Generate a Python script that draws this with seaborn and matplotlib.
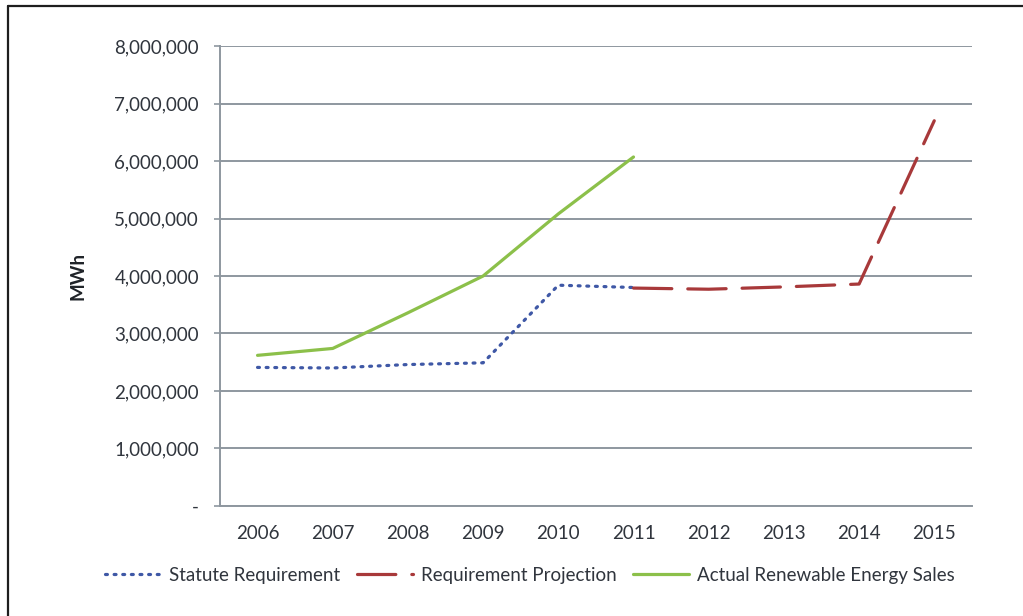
import matplotlib
matplotlib.use("Agg")
import matplotlib.pyplot as plt
from matplotlib.lines import Line2D
from matplotlib.ticker import FuncFormatter, FixedLocator
import numpy as np
import pandas as pd
import seaborn as sns

# Renewable energy requirement vs. actual sales (MWh)
statute_years = [2006, 2007, 2008, 2009, 2010, 2011]
statute_mwh = [2410000, 2400000, 2460000, 2490000, 3840000, 3800000]

projection_years = [2011, 2012, 2013, 2014, 2015]
projection_mwh = [3790000, 3770000, 3810000, 3860000, 6700000]

actual_years = [2006, 2007, 2008, 2009, 2010, 2011]
actual_mwh = [2620000, 2740000, 3360000, 4000000, 5080000, 6070000]

year_labels = [2006, 2007, 2008, 2009, 2010, 2011, 2012, 2013, 2014, 2015]
y_ticks = [0, 1000000, 2000000, 3000000, 4000000, 5000000, 6000000, 7000000, 8000000]

series_names = ["Statute Requirement", "Requirement Projection", "Actual Renewable Energy Sales"]

df = pd.concat([
    pd.DataFrame({"Year": statute_years, "MWh": statute_mwh, "Series": series_names[0]}),
    pd.DataFrame({"Year": projection_years, "MWh": projection_mwh, "Series": series_names[1]}),
    pd.DataFrame({"Year": actual_years, "MWh": actual_mwh, "Series": series_names[2]}),
], ignore_index=True)

sns.set_theme(style="white")
plt.rcParams["font.family"] = ["Lato", "DejaVu Sans"]

palette = {
    series_names[0]: "#3f58a6",
    series_names[1]: "#a8393a",
    series_names[2]: "#8cc04a",
}
dashes = {
    series_names[0]: (0.6, 2.1),
    series_names[1]: (12, 5),
    series_names[2]: "",
}

fig = plt.figure(figsize=(10.23, 6.16), dpi=100)
ax = fig.add_axes([0.215, 0.1786, 0.735, 0.7467])

sns.lineplot(data=df, x="Year", y="MWh", hue="Series", style="Series",
             palette=palette, dashes=dashes, hue_order=series_names,
             style_order=series_names, linewidth=2.3, ax=ax, legend=False)
for ln in ax.get_lines():
    ln.set_dash_capstyle("round")

text_color = "#30353d"
grid_color = "#8e979f"
fs = 13.5

ax.set_xlim(2005.5, 2015.5)
ax.set_ylim(0, 8000000)
ax.yaxis.set_major_locator(FixedLocator(y_ticks))
ax.yaxis.set_major_formatter(FuncFormatter(lambda v, p: "-" if v == 0 else f"{v:,.0f}"))
ax.xaxis.set_major_locator(FixedLocator(year_labels))
ax.set_xticklabels([str(y) for y in year_labels])
ax.xaxis.set_minor_locator(FixedLocator([y - 0.5 for y in year_labels] + [year_labels[-1] + 0.5]))

ax.grid(axis="y", color=grid_color, linewidth=1.4)
ax.set_axisbelow(True)
for side in ["top", "right"]:
    ax.spines[side].set_visible(False)
for side in ["left", "bottom"]:
    ax.spines[side].set_color(grid_color)
    ax.spines[side].set_linewidth(1.4)

ax.tick_params(axis="x", which="major", length=0, pad=14, labelsize=fs, labelcolor=text_color)
ax.tick_params(axis="x", which="minor", length=5, width=1.2, color=grid_color, direction="out")
ax.tick_params(axis="y", which="major", length=4, width=1.2, color=grid_color,
               pad=11, labelsize=fs, labelcolor=text_color, left=True)

ax.set_xlabel("")
ax.set_ylabel("MWh", fontsize=fs, fontweight="bold", color="#1f2328", labelpad=20)

handles = [
    Line2D([], [], color=palette[series_names[0]], linewidth=2.3,
           dashes=dashes[series_names[0]], dash_capstyle="round"),
    Line2D([], [], color=palette[series_names[1]], linewidth=2.3,
           dashes=dashes[series_names[1]], dash_capstyle="round"),
    Line2D([], [], color=palette[series_names[2]], linewidth=2.3),
]
fig.legend(handles, series_names, loc="center", bbox_to_anchor=(0.518, 0.066),
           ncol=3, frameon=False, fontsize=fs, handlelength=3.0, handletextpad=0.4,
           columnspacing=0.9, labelcolor=text_color)

# frame edges of the clipped document
fig.add_artist(Line2D([8 / 1023, 1.0], [1 - 6 / 616, 1 - 6 / 616], color="#1e1e1e", linewidth=1.6))
fig.add_artist(Line2D([8 / 1023, 8 / 1023], [0, 1 - 6 / 616], color="#1e1e1e", linewidth=1.6))

fig.savefig("out.png", dpi=100, facecolor="white")
